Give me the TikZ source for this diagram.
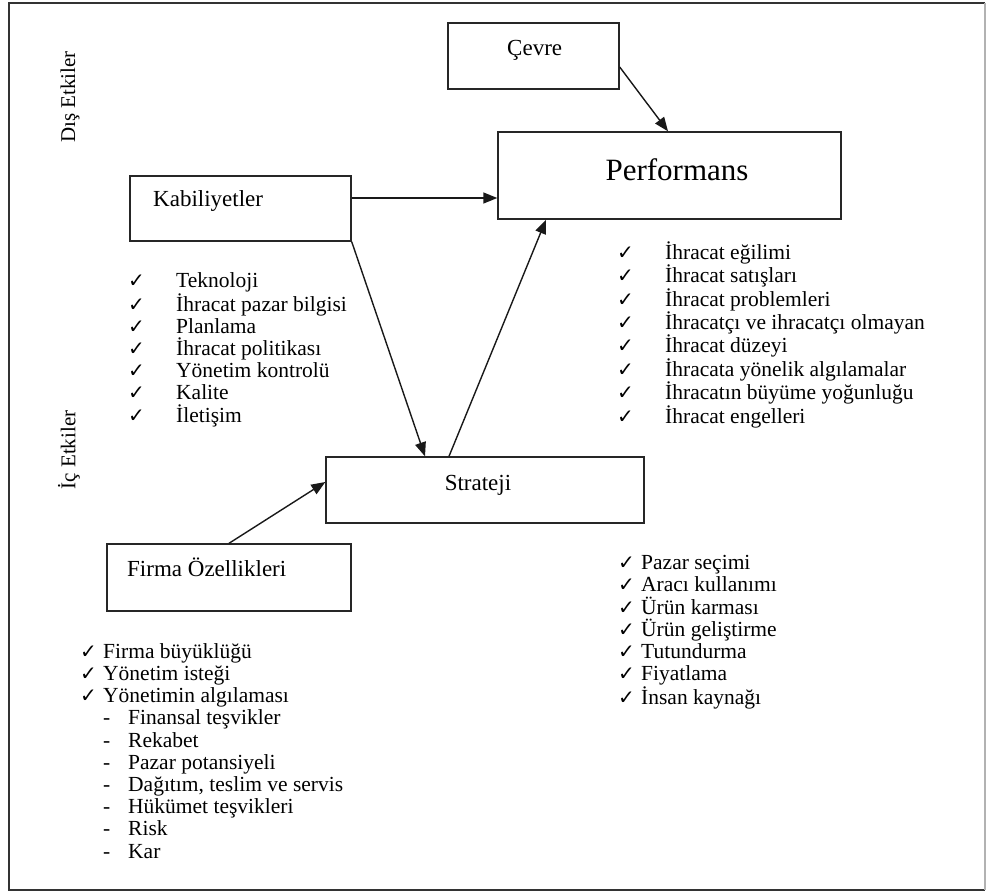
\documentclass[tikz,border=0pt]{standalone}
\usepackage{fontspec}
\setmainfont{Liberation Serif}
\newfontfamily\symfont{DejaVu Sans}
\usetikzlibrary{arrows.meta}
\newcommand{\ckmark}{{\symfont\fontsize{20}{20}\selectfont ✓}}
\newcommand{\ckA}[1]{\makebox[48pt][l]{\ckmark}#1}
\newcommand{\ckB}[1]{\makebox[23pt][l]{\ckmark}#1}
\newcommand{\dsh}[1]{\hspace{23pt}\makebox[25pt][l]{-}#1}
\tikzset{
  box/.style={draw=black!85, line width=1.4pt, rectangle, inner sep=0pt},
  title/.style={font=\fontsize{23}{26}\selectfont, inner sep=0pt},
  listtext/.style={font=\fontsize{21.5}{22.2}\selectfont, align=left, inner sep=0pt, anchor=base west},
  side/.style={font=\fontsize{21}{24}\selectfont, rotate=90, inner sep=0pt},
  arr/.style={draw=black!90, line width=1.4pt, -{Triangle[length=14pt,width=11pt]}},
}
\begin{document}
\begin{tikzpicture}[x=1pt,y=-1pt]
\useasboundingbox (0,0) rectangle (987,892);
% frame
\draw[black!80, line width=1.5pt] (985,3) -- (9,3) -- (9,890) -- (985,890);
\draw[black!30, line width=1.2pt] (985,3) -- (985,890);
% side labels
\node[side] (dis) at (70,97) {Dış Etkiler};
\node[side] (ic) at (69,450) {İç Etkiler};
% boxes
\node[box, minimum width=171pt, minimum height=66pt] (cevre) at (533.5,56) {};
\node[title, anchor=base west] (cevret) at (507,55) {Çevre};
\node[box, minimum width=343pt, minimum height=87pt] (perf) at (669.5,175.5) {};
\node[inner sep=0pt, font=\fontsize{31}{34}\selectfont, anchor=base] (perft) at (677,180) {Performans};
\node[box, minimum width=221pt, minimum height=65pt] (kab) at (240.5,208.5) {};
\node[title, anchor=base west] (kabt) at (153,206) {Kabiliyetler};
\node[box, minimum width=318pt, minimum height=66pt] (str) at (485,490) {};
\node[title, anchor=base] (strt) at (478,490) {Strateji};
\node[box, minimum width=244pt, minimum height=67pt] (firma) at (229,577.5) {};
\node[title, anchor=base west] (firmat) at (127,576) {Firma Özellikleri};
% arrows
\draw[arr] ([yshift=-11pt]cevre.east) -- ([xshift=-1.5pt]perf.north);
\draw[arr] ([yshift=10.5pt]kab.east) coordinate (k1) -- (k1 -| perf.west);
\draw[arr] (kab.south east) -- ([xshift=-60pt]str.north);
\draw[arr] ([xshift=-36pt]str.north) -- ([xshift=-123.5pt]perf.south);
\draw[arr] (firma.north) -- ([yshift=8pt]str.west);
% lists (anchored at the baseline of the last line)
\node[listtext] (kabl) at (128,422) {\ckA{Teknoloji}\\ \ckA{İhracat pazar bilgisi}\\ \ckA{Planlama}\\ \ckA{İhracat politikası}\\ \ckA{Yönetim kontrolü}\\ \ckA{Kalite}\\ \ckA{İletişim}};
\node[listtext] (perfl) at (617,423) {\ckA{İhracat eğilimi}\\ \ckA{İhracat satışları}\\ \ckA{İhracat problemleri}\\ \ckA{İhracatçı ve ihracatçı olmayan}\\ \ckA{İhracat düzeyi}\\ \ckA{İhracata yönelik algılamalar}\\ \ckA{İhracatın büyüme yoğunluğu}\\ \ckA{İhracat engelleri}};
\node[listtext] (strl) at (618,704) {\ckB{Pazar seçimi}\\ \ckB{Aracı kullanımı}\\ \ckB{Ürün karması}\\ \ckB{Ürün geliştirme}\\ \ckB{Tutundurma}\\ \ckB{Fiyatlama}\\ \ckB{İnsan kaynağı}};
\node[listtext] (firmal) at (80,858) {\ckB{Firma büyüklüğü}\\ \ckB{Yönetim isteği}\\ \ckB{Yönetimin algılaması}\\ \dsh{Finansal teşvikler}\\ \dsh{Rekabet}\\ \dsh{Pazar potansiyeli}\\ \dsh{Dağıtım, teslim ve servis}\\ \dsh{Hükümet teşvikleri}\\ \dsh{Risk}\\ \dsh{Kar}};
\end{tikzpicture}
\end{document}
